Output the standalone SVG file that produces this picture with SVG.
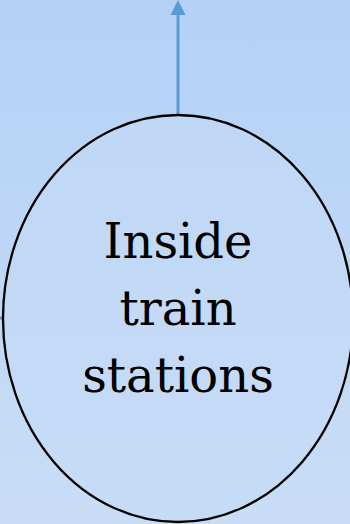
<svg xmlns="http://www.w3.org/2000/svg" width="350" height="524" viewBox="0 0 350 524">
<defs>
<linearGradient id="bg" x1="0" y1="0" x2="0" y2="1">
<stop offset="0" stop-color="#b4d1f5"/>
<stop offset="1" stop-color="#c9ddf6"/>
</linearGradient>
<style>
.conn{stroke:#5b9bd5;stroke-width:3;fill:none}
.head{fill:#5b9bd5}
.node{fill:#c5dbf6;stroke:#000;stroke-width:2.3}
.lbl{font-family:"DejaVu Serif","Liberation Serif",serif;font-size:48px;fill:#000;text-anchor:middle}
</style>
</defs>
<rect width="350" height="524" fill="url(#bg)"/>
<g id="connectors">
<line class="conn" x1="178" y1="115" x2="178" y2="14"/>
<polygon class="head" points="178,0 170.5,15 185.5,15"/>
<line class="conn" x1="0" y1="318" x2="3" y2="318"/>
</g>
<g id="node-inside-train-stations">
<ellipse class="node" cx="178" cy="318.5" rx="175" ry="203.5" fill-opacity="0.6"/>
<text class="lbl" x="178" y="258">Inside</text>
<text class="lbl" x="178" y="325">train</text>
<text class="lbl" x="178" y="392">stations</text>
</g>
</svg>
